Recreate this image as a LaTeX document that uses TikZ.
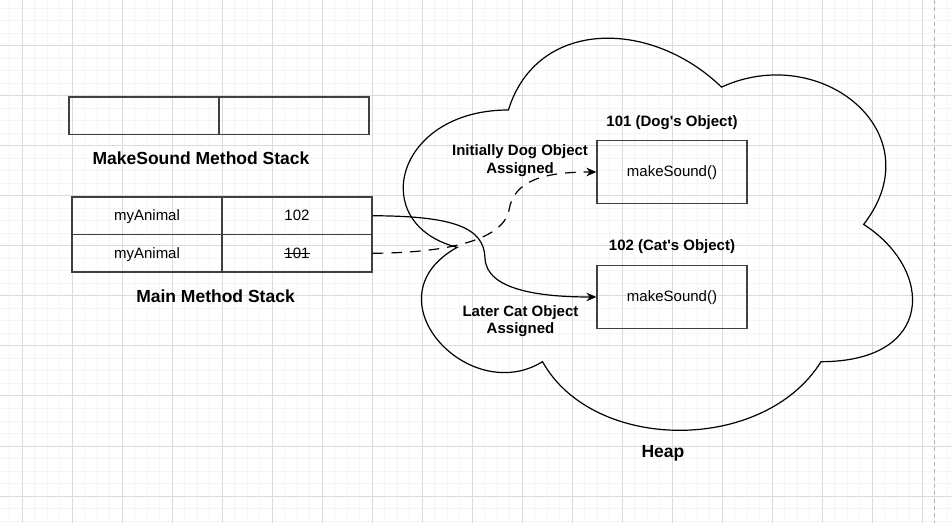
\documentclass[tikz,border=0pt]{standalone}
\usepackage{fontspec}
\setmainfont{Liberation Sans}
\usetikzlibrary{arrows.meta}

\begin{document}
\begin{tikzpicture}[x=0.75pt,y=-0.75pt,
  every node/.style={font=\fontsize{11.25}{13.5}\selectfont},
  cell/.style={draw=black!75,line width=1pt,minimum width=112.5pt,
    minimum height=28.125pt,inner sep=0pt,text height=0.72em,text depth=0pt},
  objbox/.style={draw=black!75,line width=1pt,minimum width=112.5pt,
    minimum height=46.875pt,inner sep=0pt,text height=0.72em,text depth=0pt},
  title/.style={font=\fontsize{13.125}{15}\selectfont\bfseries},
  note/.style={font=\fontsize{11.25}{13.2}\selectfont\bfseries,align=center},
  link/.style={-{Stealth[length=7.5pt,width=6.5pt,inset=2.5pt]},line width=0.9pt},
  minor/.style={black!4,line width=0.75pt},
  major/.style={black!14,line width=0.75pt}]

  \useasboundingbox[fill=white] (0,0) rectangle (952,523);

  % background grid
  \foreach \i in {0,...,77} \draw[minor] (\i*12.5-3,0) -- (\i*12.5-3,523);
  \foreach \j in {0,...,41} \draw[minor] (0,\j*12.5+8.5) -- (952,\j*12.5+8.5);
  \foreach \i in {0,...,18} \draw[major] (\i*50+22.3,0) -- (\i*50+22.3,523);
  \foreach \j in {0,...,9} \draw[major] (0,\j*50+46) -- (952,\j*50+46);
  \draw[black!30,line width=0.75pt,dash pattern=on 3pt off 2.5pt]
    (934.7,0) -- (934.7,523);

  % MakeSound method stack
  \node[cell] (s1a) at (144,115.75) {};
  \node[cell] (s1b) at (294,115.75) {};
  \node[title] (msLabel) at (201,158) {MakeSound Method Stack};

  % Main method stack
  \node[cell] (m1a) at (147,215.75) {myAnimal};
  \node[cell] (m1b) at (297,215.75) {102};
  \node[cell] (m2a) at (147,253.25) {myAnimal};
  \node[cell] (m2b) at (297,253.25) {101};
  \draw[line width=0.7pt] ([xshift=-9.6pt]m2b.center) -- ([xshift=9.6pt]m2b.center);
  \node[title] (mainLabel) at (215.5,296.7) {Main Method Stack};

  % heap
  \begin{scope}[shift={(366.3,-4.4)},x=426.3pt,y=-343.2pt]
    \draw[line width=0.9pt] (0.25,0.25) .. controls (0.05,0.25) and (0,0.5) .. (0.16,0.55)
      .. controls (0,0.66) and (0.18,0.9) .. (0.31,0.8)
      .. controls (0.4,1) and (0.7,1) .. (0.8,0.8)
      .. controls (1,0.8) and (1,0.6) .. (0.875,0.5)
      .. controls (1,0.3) and (0.8,0.1) .. (0.625,0.2)
      .. controls (0.5,0.05) and (0.3,0.05) .. (0.25,0.25) -- cycle;
  \end{scope}
  \node[title] (heapLabel) at (663,453.3) {Heap};

  % objects
  \node[note] (dogTitle) at (672,122.7) {101 (Dog\textquotesingle s Object)};
  \node[objbox] (dog) at (672,172) {makeSound()};
  \node[note] (catTitle) at (672,246.7) {102 (Cat\textquotesingle s Object)};
  \node[objbox] (cat) at (672,297) {makeSound()};
  \node[note] (dogNote) at (520,160.5) {Initially Dog Object\\Assigned};
  \node[note] (catNote) at (520.5,321.3) {Later Cat Object\\Assigned};

  % references
  \draw[link] (m1b.east) .. controls (455,216) and (484,228) .. (485,258)
    .. controls (486,290) and (540,297) .. (cat.west);
  \draw[link,dash pattern=on 8pt off 6pt] (m2b.east) .. controls (440,253) and (503,242) .. (509,210)
    .. controls (514,180) and (545,172) .. (dog.west);
\end{tikzpicture}
\end{document}
